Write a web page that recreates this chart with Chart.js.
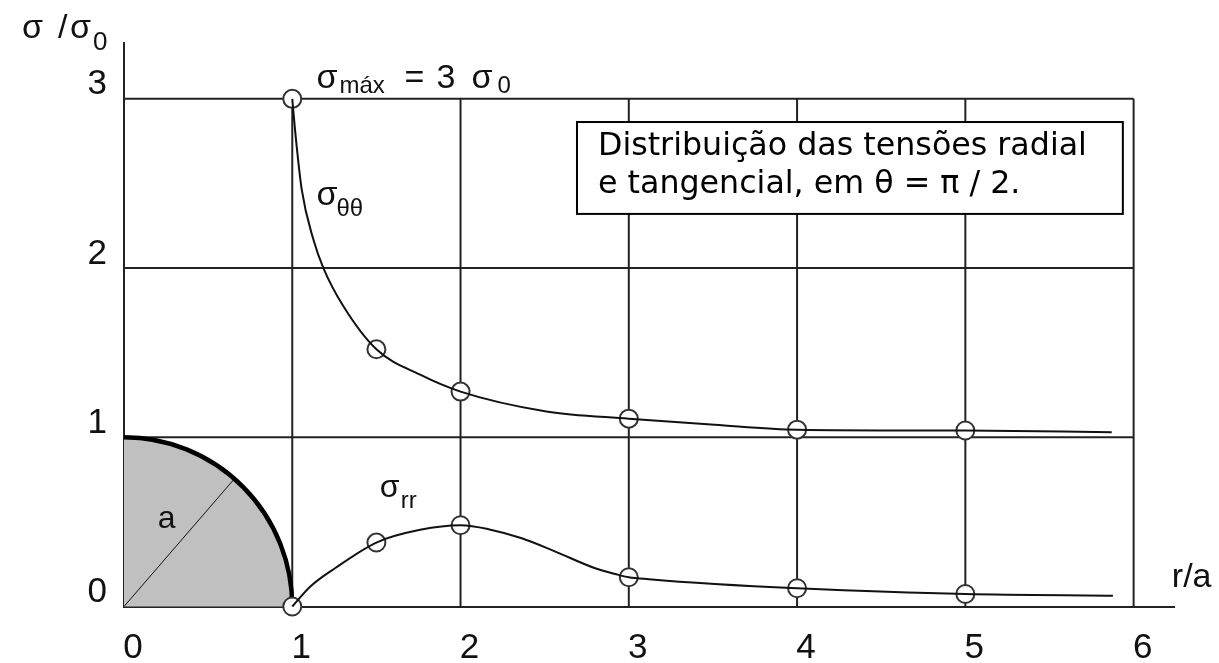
<!DOCTYPE html>
<html lang="pt">
<head>
<meta charset="UTF-8">
<title>Distribuição das tensões radial e tangencial</title>
<script src="https://cdn.jsdelivr.net/npm/chart.js@4"></script>
<style>
  body { margin: 0; background: #fff; }
  canvas { display: block; }
</style>
</head>
<body>
<canvas id="tensoes" width="1219" height="663"></canvas>
<script>
  // pontos marcados (r/a) e valores de sigma/sigma0
  const pontosR = [1, 1.5, 2, 3, 4, 5];
  const pontosTheta = [3.0, 1.52, 1.27, 1.11, 1.045, 1.04];
  const pontosRr = [0, 0.378, 0.48, 0.173, 0.108, 0.074];

  // pontos intermediários do traçado de cada curva
  const tracoThetaR = [1.018, 1.056, 1.125, 1.185, 1.304, 1.76, 2.51, 3.51, 5.87];
  const tracoThetaY = [2.80, 2.465, 2.17, 2.0, 1.774, 1.37, 1.153, 1.074, 1.03];
  const tracoRrR = [1.106, 1.254, 1.76, 2.166, 2.364, 2.56, 2.80, 2.92, 3.12, 3.51, 5.877];
  const tracoRrY = [0.117, 0.226, 0.453, 0.457, 0.403, 0.326, 0.226, 0.192, 0.161, 0.133, 0.064];

  const ticksX = [0, 1, 2, 3, 4, 5, 6];
  const ticksY = [0, 1, 2, 3];
  const gradeX = [1, 2, 3, 4, 5, 6];
  const gradeY = [1, 2, 3];
  const raioFuro = 1; // r = a

  const xy = (xs, ys) => xs.map((x, i) => ({ x: x, y: ys[i] }));
  const curva = (xs, ys, xs2, ys2) =>
    xy(xs, ys).concat(xy(xs2, ys2)).sort((p, q) => p.x - q.x);

  const fonteNum = 'Liberation Sans, Arial, sans-serif';
  const corLinha = '#222';

  // grade, furo (quarto de círculo) sob as curvas
  const fundo = {
    id: 'fundo',
    beforeDatasetsDraw(chart) {
      const { ctx, scales: { x, y } } = chart;
      ctx.save();
      const cx = x.getPixelForValue(0), cy = y.getPixelForValue(0);
      const rx = x.getPixelForValue(raioFuro) - cx;
      const ry = cy - y.getPixelForValue(raioFuro);
      ctx.beginPath();
      ctx.moveTo(cx, cy);
      ctx.ellipse(cx, cy, rx, ry, 0, -Math.PI / 2, 0);
      ctx.closePath();
      ctx.fillStyle = '#c0c0c0';
      ctx.fill();

      ctx.strokeStyle = corLinha;
      ctx.lineWidth = 2;
      gradeX.forEach(v => {
        const px = x.getPixelForValue(v);
        ctx.beginPath();
        ctx.moveTo(px, y.getPixelForValue(0));
        ctx.lineTo(px, y.getPixelForValue(3));
        ctx.stroke();
      });
      gradeY.forEach(v => {
        const py = y.getPixelForValue(v);
        ctx.beginPath();
        ctx.moveTo(x.getPixelForValue(0), py);
        ctx.lineTo(x.getPixelForValue(6), py);
        ctx.stroke();
      });

      // raio a
      const ang = 49 * Math.PI / 180;
      ctx.lineWidth = 1;
      ctx.strokeStyle = '#111';
      ctx.beginPath();
      ctx.moveTo(cx, cy);
      ctx.lineTo(cx + rx * Math.cos(ang), cy - ry * Math.sin(ang));
      ctx.stroke();

      ctx.lineWidth = 4.5;
      ctx.strokeStyle = '#000';
      ctx.beginPath();
      ctx.ellipse(cx, cy, rx, ry, 0, -Math.PI / 2, 0);
      ctx.stroke();

      // quadro com a legenda
      const bx0 = x.getPixelForValue(2.692), bx1 = x.getPixelForValue(5.936);
      const by0 = y.getPixelForValue(2.863), by1 = y.getPixelForValue(2.32);
      ctx.fillStyle = '#fff';
      ctx.fillRect(bx0, by0, bx1 - bx0, by1 - by0);
      ctx.lineWidth = 2;
      ctx.strokeStyle = '#000';
      ctx.strokeRect(bx0, by0, bx1 - bx0, by1 - by0);
      ctx.fillStyle = '#000';
      ctx.font = '31.7px "DejaVu Sans"';
      ctx.textBaseline = 'alphabetic';
      ctx.fillText('Distribuição das tensões radial', bx0 + 21, by0 + 33);
      ctx.fillText('e tangencial, em θ = π / 2.', bx0 + 21, by0 + 71);
      ctx.restore();
    }
  };

  // rótulos com índices
  function escreve(ctx, x0, y0, partes) {
    partes.forEach(([t, dx, tam, dy]) => {
      ctx.font = tam + 'px ' + fonteNum;
      ctx.fillText(t, x0 + dx, y0 + dy);
    });
  }

  const rotulos = {
    id: 'rotulos',
    afterDraw(chart) {
      const { ctx, scales: { x, y } } = chart;
      ctx.save();
      ctx.fillStyle = '#111';
      ctx.textBaseline = 'alphabetic';
      ctx.textAlign = 'left';
      escreve(ctx, x.getPixelForValue(-0.606), y.getPixelForValue(3.36),
        [['σ', 0, 34, 0], ['/', 36, 34, 0], ['σ', 48, 34, 0], ['0', 71, 26, 12]]);
      escreve(ctx, x.getPixelForValue(1.144), y.getPixelForValue(3.064),
        [['σ', 0, 34, 0], ['máx', 23, 24, 5], ['=', 88, 34, 0], ['3', 120, 34, 0],
         ['σ', 155, 34, 0], ['0', 181, 24, 5]]);
      escreve(ctx, x.getPixelForValue(1.144), y.getPixelForValue(2.373),
        [['σ', 0, 34, 0], ['θθ', 20, 24, 11]]);
      escreve(ctx, x.getPixelForValue(1.52), y.getPixelForValue(0.649),
        [['σ', 0, 32, 0], ['rr', 21, 24, 11]]);
      escreve(ctx, x.getPixelForValue(0.2), y.getPixelForValue(0.464), [['a', 0, 32, 0]]);
      escreve(ctx, x.getPixelForValue(6.227), y.getPixelForValue(0.115), [['r/a', 0, 34, 0]]);
      ctx.restore();
    }
  };

  const linha = (dados) => ({
    data: dados,
    showLine: true,
    pointRadius: 0,
    borderColor: '#111',
    borderWidth: 2,
    cubicInterpolationMode: 'monotone',
    clip: false
  });
  const marcas = (dados) => ({
    data: dados,
    showLine: false,
    pointRadius: 9,
    pointHoverRadius: 9,
    pointBackgroundColor: '#fff',
    pointBorderColor: '#333',
    pointBorderWidth: 2,
    clip: false
  });

  new Chart(document.getElementById('tensoes'), {
    type: 'scatter',
    data: {
      datasets: [
        linha(curva(pontosR, pontosTheta, tracoThetaR, tracoThetaY)),
        linha(curva(pontosR, pontosRr, tracoRrR, tracoRrY)),
        marcas(xy(pontosR, pontosTheta)),
        marcas(xy(pontosR, pontosRr))
      ]
    },
    options: {
      responsive: false,
      animation: false,
      events: [],
      layout: { padding: { top: 43, right: 45, left: 0, bottom: 0 } },
      plugins: { legend: { display: false }, tooltip: { enabled: false } },
      scales: {
        x: {
          type: 'linear', min: 0, max: 6.24,
          grid: { display: false, drawTicks: false },
          border: { display: true, color: corLinha, width: 2 },
          afterBuildTicks: s => { s.ticks = ticksX.map(v => ({ value: v })); },
          afterFit: s => { s.height = 56.5; },
          ticks: { font: { family: fonteNum, size: 35 }, color: '#111', padding: 21,
                   labelOffset: 9, maxRotation: 0, autoSkip: false }
        },
        y: {
          type: 'linear', min: 0, max: 3.33,
          grid: { display: false, drawTicks: false },
          border: { display: true, color: corLinha, width: 2 },
          afterBuildTicks: s => { s.ticks = ticksY.map(v => ({ value: v })); },
          afterFit: s => { s.width = 124; },
          ticks: { font: { family: fonteNum, size: 35 }, color: '#111', padding: 17,
                   labelOffset: -14 }
        }
      }
    },
    plugins: [fundo, rotulos]
  });
</script>
</body>
</html>
